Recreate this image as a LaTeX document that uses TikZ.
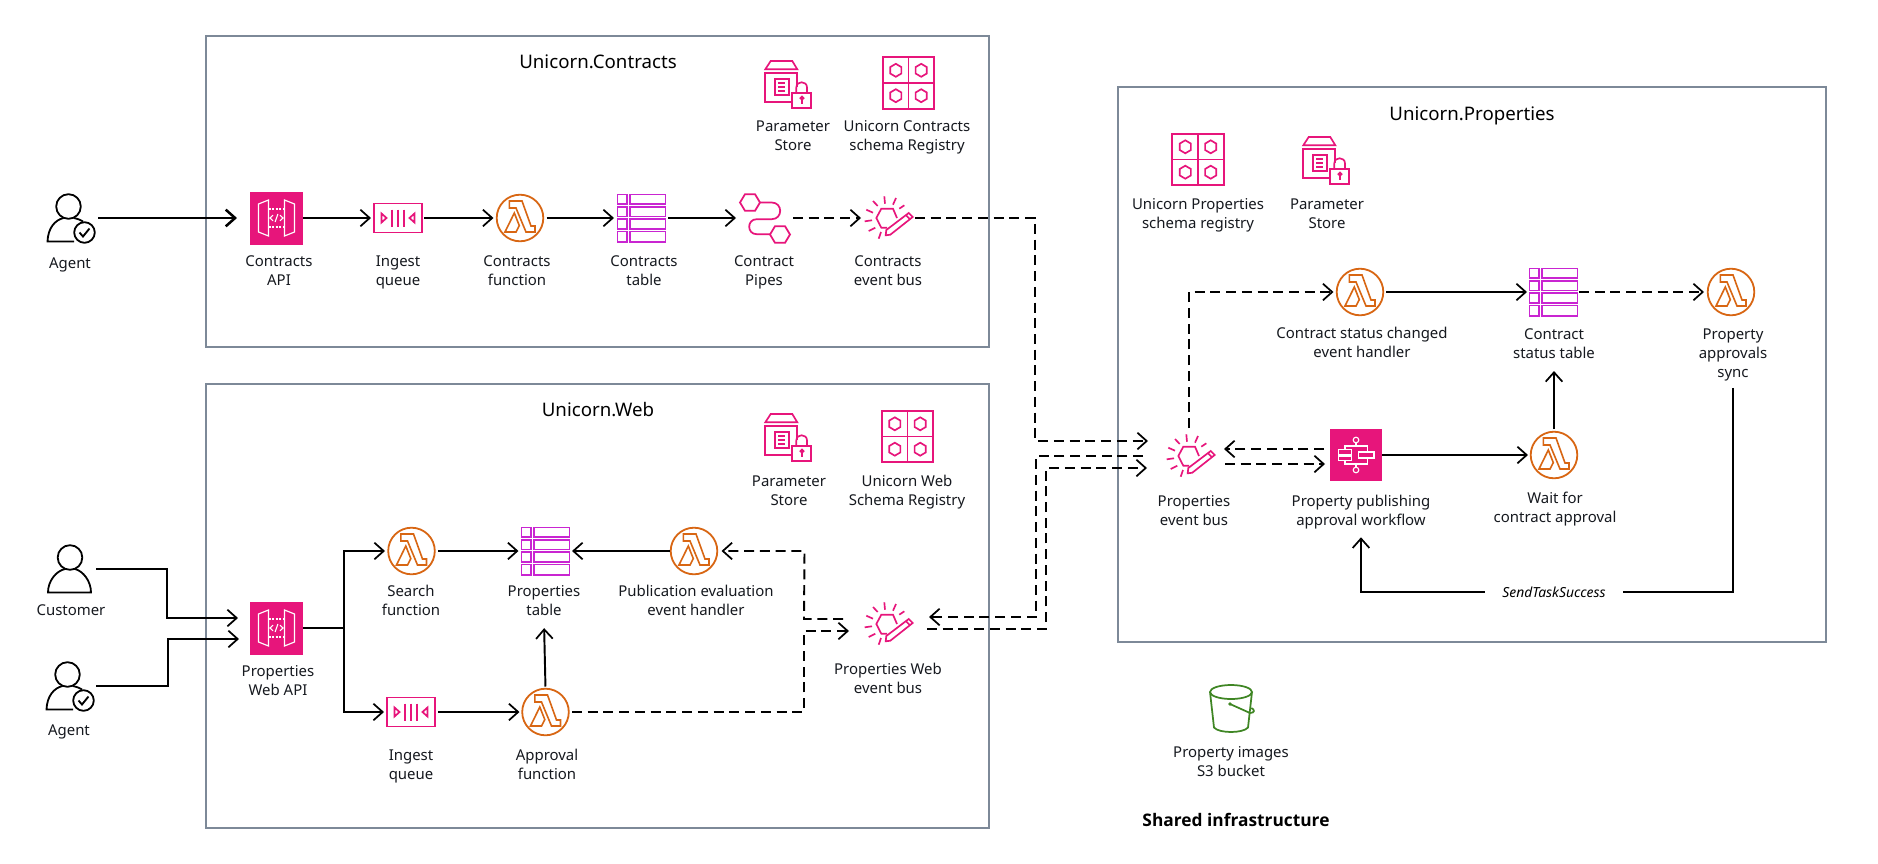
\documentclass[tikz,border=0pt]{standalone}
\usepackage{fontspec}
\setmainfont{Noto Sans}
\newfontfamily\sharedfont{Open Sans}
\usetikzlibrary{arrows.meta,calc}
\definecolor{ink}{HTML}{16191F}
\definecolor{pinkc}{HTML}{E7157B}
\definecolor{orangec}{HTML}{D86613}
\definecolor{purplec}{HTML}{C925D1}
\definecolor{greenc}{HTML}{3F8624}
\definecolor{boxc}{HTML}{7D8998}
\def\px{0.75pt}
\tikzset{
  icon/.style 2 args={minimum width=#1*\px,minimum height=#2*\px,inner sep=0pt,outer sep=0pt},
  lbl/.style={align=center,font=\fontsize{11.2}{14.25}\selectfont,text=ink,inner sep=0pt,yshift=-2.25pt,
    execute at begin node={\strut},execute at end node={\strut}},
  title/.style={align=center,font=\fontsize{14}{16}\selectfont,text=black,inner sep=0pt},
  group/.style 2 args={draw=boxc,line width=1.5pt,minimum width=#1*\px,minimum height=#2*\px,inner sep=0pt},
  flow/.style={draw=black,line width=1.45pt,-{Straight Barb[length=7pt,width=12.5pt,line width=1.3pt]}},
  plainflow/.style={draw=black,line width=1.45pt},
  heavy/.style={draw=black,line width=2pt,-{Straight Barb[length=7pt,width=12.5pt,line width=1.9pt]}},
  dflow/.style={flow,dash pattern=on 7.5pt off 4.3pt},
  pics/lambdaicon/.style={code={
    \draw[orangec,line width=1.35pt] (0,0) circle[radius=23.3];
    \draw[orangec,line width=1.2pt,line join=miter]
      (-10.7,-17)--(2,-17)--(11,8)--(15,8)--(15,14)--(6,14)--(-4,-10)--(-10.7,-10)--cycle
      (-5.7,-5)--(-0.7,7.6)--(-4,14)--(-15,14)--cycle;
  }},
  pics/tableicon/.style={code={
    \begin{scope}[purplec,line width=1.45pt]
    \foreach \a/\b in {-23.5/-14,-11.3/-1.5,1/11,13.5/23.7}{
      \draw (-24,\a) rectangle (-14.5,\b);
      \draw (-11.5,\a) rectangle (24,\b);
    }
    \end{scope}
  }},
  pics/queueicon/.style={code={
    \begin{scope}[pinkc,line width=1.3pt]
    \draw (-24,-14.5) rectangle (24,14.5);
    \foreach \a in {-6,0,6}{\draw (\a,-8.5)--(\a,8.5);}
    \draw (-16.5,-4.5)--(-11.5,0)--(-16.5,4.5)--cycle;
    \draw (16.5,-4.5)--(11.5,0)--(16.5,4.5)--cycle;
    \end{scope}
  }},
  pics/apiicon/.style={code={
    \fill[pinkc] (-26.5,-26.5) rectangle (26.5,26.5);
    \begin{scope}[white,line width=0.85pt]
    \draw (-8,-18)--(-18,-14)--(-18,14)--(-8,18)--cycle;
    \draw (8,-18)--(18,-14)--(18,14)--(8,18)--cycle;
    \draw[dash pattern=on 1.5pt off 1.2pt] (-8,-9)--(8,-9) (-8,9)--(8,9);
    \draw (-3.5,-2.8)--(-6.5,0)--(-3.5,2.8) (3.5,-2.8)--(6.5,0)--(3.5,2.8) (1.4,-4)--(-1.4,4);
    \end{scope}
  }},
  pics/paramicon/.style={code={
    \begin{scope}[pinkc,line width=1.25pt]
    \draw (-22.7,-14.7)--(-17.3,-23)--(4.3,-23)--(9.3,-14.7)--cycle;
    \draw (3.3,18)--(-22.7,18)--(-22.7,-11.3)--(9.3,-11.3)--(9.3,3);
    \draw (-13.3,-5.3) rectangle (0.7,10.7);
    \draw (-10,-1.3)--(-2.7,-1.3) (-10,3)--(-2.7,3) (-10,7.3)--(-2.7,7.3);
    \draw (4.3,9) rectangle (23.3,23.7);
    \draw (8.3,9)--(8.3,3.5) .. controls (8.3,-3.5) and (19,-3.5) .. (19,3.5)--(19,9);
    \draw (14,14.2) circle[radius=1.6];
    \draw (14,15.5)--(14,19.5);
    \end{scope}
  }},
  pics/schemaicon/.style={code={
    \begin{scope}[pinkc,line width=1.25pt]
    \draw (-25.7,-25.7) rectangle (25.7,25.7);
    \draw (0,-25.7)--(0,25.7) (-25.7,0)--(25.7,0);
    \foreach \a in {-12.7,12.7}{\foreach \b in {-12.7,12.7}{
      \draw (\a,\b-6.5)--(\a+5.6,\b-3.2)--(\a+5.6,\b+3.2)--(\a,\b+6.5)--(\a-5.6,\b+3.2)--(\a-5.6,\b-3.2)--cycle;
    }}
    \end{scope}
  }},
  pics/busicon/.style={code={
    \begin{scope}[pinkc,line width=1.25pt,shift={(-1.5,0)}]
    \draw (10,0)--(6,-9.3)--(-5.7,-9.3)--(-10.7,0)--(-5.7,9.7)--(0,9.7);
    \draw (-2.7,-21.7)--(-2,-14.3) (9,-20)--(6,-13.3) (17.3,-12.7)--(12.3,-9.3)
      (-14,-17)--(-9.3,-12) (-20.7,-8.3)--(-14,-5.3) (-22.3,3.3)--(-15,2.3)
      (-18.3,13)--(-11.7,9.7) (-8.3,20.7)--(-6,14);
    \draw (-1.3,17.3)--(-0.7,12)--(21.7,-5)--(25.7,-1)--(3.3,16.7)--cycle (18.7,-3)--(22.7,1);
    \end{scope}
  }},
  pics/pipesicon/.style={code={
    \begin{scope}[pinkc,line width=1.3pt]
    \foreach \a/\b in {-15/-15.5,15/16.5}{
      \draw (\a-10,\b)--(\a-5,\b-8.3)--(\a+5,\b-8.3)--(\a+10,\b)--(\a+5,\b+8.3)--(\a-5,\b+8.3)--cycle;
    }
    \draw (-5,-15.5)--(6.7,-15.5) .. controls (18,-15.5) and (18,1.2) .. (6.7,1.2) -- (-8.3,1.2)
       .. controls (-18.3,1.2) and (-18.3,16.2) .. (-8.3,16.2)--(5,16.2);
    \end{scope}
  }},
  pics/sfnicon/.style={code={
    \fill[pinkc] (-26,-26) rectangle (26,26);
    \begin{scope}[white,line width=0.85pt]
    \draw (0,-15) circle[radius=2.8] (0,15) circle[radius=2.8];
    \draw (0,-12.2)--(0,-9) (0,12.2)--(0,9);
    \draw (-11,-5.5)--(-11,-9)--(11.3,-9)--(11.3,-3) (-11,5.5)--(-11,9)--(11.3,9)--(11.3,3);
    \draw (-17.7,-5.7) rectangle (-4.3,-0.7) (-17.7,1) rectangle (-4.3,5.7);
    \draw (2.3,-3) rectangle (18,3);
    \end{scope}
  }},
  pics/bucketicon/.style={code={
    \begin{scope}[greenc,line width=1.3pt]
    \draw (0,-16.5) ellipse[x radius=21,y radius=7];
    \draw (-21,-16.5)--(-17,19) .. controls (-12,25) and (12,25) .. (17,19)--(21,-16.5);
    \fill (-1,-4.5) circle[radius=1.8];
    \draw (-1,-4.5)--(19,4.5) .. controls (24,4.5) and (24,1) .. (20.3,-0.5);
    \end{scope}
  }},
  pics/customericon/.style={code={
    \begin{scope}[black,line width=1.35pt]
    \draw (-2,-11.5) circle[radius=12.3];
    \draw (-7,0) .. controls (-16,2) and (-24,12) .. (-24,23.5) -- (19,23.5) .. controls (19,12) and (11,2) .. (3,0);
    \end{scope}
  }},
  pics/agenticon/.style={code={
    \begin{scope}[black,line width=1.35pt]
    \draw (-2.5,-11.5) circle[radius=12.3];
    \draw (-7.5,0) .. controls (-16,2) and (-23,10) .. (-23.5,23.5) -- (3,23.5);
    \draw (3,0) .. controls (7,1) and (10,2) .. (12,3.5);
    \draw (13.5,14.5) circle[radius=10.3];
    \draw[line width=1.4pt] (8.5,14.5)--(12,18.5)--(18.5,10.5);
    \end{scope}
  }},
}
\begin{document}
\begin{tikzpicture}[x=0.75pt,y=-0.75pt]
\useasboundingbox (0,0) rectangle (1878,864);
\fill[white] (0,0) rectangle (1878,864);
% groups
\node[group={783}{311}] (gc) at (597.5,191.5) {};
\node[group={783}{444}] (gw) at (597.5,606) {};
\node[group={708}{555}] (gp) at (1472,364.5) {};
\node[title] (tc) at (598,62) {Unicorn.Contracts};
\node[title] (tw) at (598,410) {Unicorn.Web};
\node[title] (tp) at (1472,116) {Unicorn.Properties};
% icon anchors
\node[icon={54}{48}] (agent1) at (71,218) {}; \pic at (agent1) {agenticon};
\node[icon={53}{53}] (capi) at (276.5,218) {}; \pic at (capi) {apiicon};
\node[icon={48}{29}] (cq) at (398,218) {}; \pic at (cq) {queueicon};
\node[icon={47}{47}] (cfn) at (520,218) {}; \pic at (cfn) {lambdaicon};
\node[icon={49}{48}] (ctb) at (641.5,218) {}; \pic at (ctb) {tableicon};
\node[icon={50}{50}] (cpipe) at (765,218) {}; \pic at (cpipe) {pipesicon};
\node[icon={49}{42}] (cbus) at (888.5,218) {}; \pic at (cbus) {busicon};
\node[icon={47}{48}] (cps) at (788,84) {}; \pic at (cps) {paramicon};
\node[icon={52}{52}] (csr) at (908.5,83) {}; \pic at (csr) {schemaicon};

\node[icon={48}{48}] (customer) at (72,569) {}; \pic at (customer) {customericon};
\node[icon={52}{48}] (agent2) at (70,686) {}; \pic at (agent2) {agenticon};
\node[icon={53}{53}] (wapi) at (276.5,628) {}; \pic at (wapi) {apiicon};
\node[icon={47}{47}] (wsearch) at (411.5,551) {}; \pic at (wsearch) {lambdaicon};
\node[icon={48}{29}] (wq) at (411,712) {}; \pic at (wq) {queueicon};
\node[icon={49}{48}] (wtb) at (545.5,551) {}; \pic at (wtb) {tableicon};
\node[icon={47}{47}] (wappr) at (545.5,712) {}; \pic at (wappr) {lambdaicon};
\node[icon={47}{47}] (wpub) at (694,551) {}; \pic at (wpub) {lambdaicon};
\node[icon={49}{42}] (wbus) at (888.5,624) {}; \pic at (wbus) {busicon};
\node[icon={47}{48}] (wps) at (788,437) {}; \pic at (wps) {paramicon};
\node[icon={52}{52}] (wsr) at (907.5,436.5) {}; \pic at (wsr) {schemaicon};

\node[icon={52}{52}] (psr) at (1198,159.5) {}; \pic at (psr) {schemaicon};
\node[icon={47}{48}] (pps) at (1326,160) {}; \pic at (pps) {paramicon};
\node[icon={49}{42}] (pbus) at (1190.5,456) {}; \pic at (pbus) {busicon};
\node[icon={52}{52}] (psfn) at (1356,455) {}; \pic at (psfn) {sfnicon};
\node[icon={47}{47}] (pcsc) at (1360,292) {}; \pic at (pcsc) {lambdaicon};
\node[icon={49}{48}] (pctb) at (1553.5,292) {}; \pic at (pctb) {tableicon};
\node[icon={47}{47}] (pasync) at (1731,292) {}; \pic at (pasync) {lambdaicon};
\node[icon={47}{47}] (pwait) at (1554,455) {}; \pic at (pwait) {lambdaicon};
\node[icon={46}{50}] (s3) at (1231,708.5) {}; \pic at (s3) {bucketicon};
% labels
\node[lbl] (lagent1) at (70,262) {Agent};
\node[lbl] (lcapi) at (279,270.5) {Contracts\\API};
\node[lbl] (lcq) at (398,270.5) {Ingest\\queue};
\node[lbl] (lcfn) at (517,270.5) {Contracts\\function};
\node[lbl] (lctb) at (644,270.5) {Contracts\\table};
\node[lbl] (lcpipe) at (764,270.5) {Contract\\Pipes};
\node[lbl] (lcbus) at (888,270.5) {Contracts\\event bus};
\node[lbl] (lcps) at (793,135.5) {Parameter\\Store};
\node[lbl] (lcsr) at (907,135.5) {Unicorn Contracts\\schema Registry};
\node[lbl] (lcust) at (71,609) {Customer};
\node[lbl] (lagent2) at (69,729) {Agent};
\node[lbl] (lwapi) at (278,680.5) {Properties\\Web API};
\node[lbl] (lwsearch) at (411,600.5) {Search\\function};
\node[lbl] (lwq) at (411,764.5) {Ingest\\queue};
\node[lbl] (lwtb) at (544,600.5) {Properties\\table};
\node[lbl] (lwappr) at (547,764.5) {Approval\\function};
\node[lbl] (lwpub) at (696,600.5) {Publication evaluation\\event handler};
\node[lbl] (lwbus) at (888,678.5) {Properties Web\\event bus};
\node[lbl] (lwps) at (789,490.5) {Parameter\\Store};
\node[lbl] (lwsr) at (907,490.5) {Unicorn Web\\Schema Registry};
\node[lbl] (lpsr) at (1198,213.5) {Unicorn Properties\\schema registry};
\node[lbl] (lpps) at (1327,213.5) {Parameter\\Store};
\node[lbl] (lpbus) at (1194,510.5) {Properties\\event bus};
\node[lbl] (lpsfn) at (1361,510.5) {Property publishing\\approval workflow};
\node[lbl] (lpcsc) at (1362,342.5) {Contract status changed\\event handler};
\node[lbl] (lpctb) at (1554,343.5) {Contract\\status table};
\node[lbl] (lpasync) at (1733,353) {Property\\approvals\\sync};
\node[lbl] (lpwait) at (1555,507.5) {Wait for\\contract approval};
\node[lbl] (ls3) at (1231,761.5) {Property images\\S3 bucket};
\node[inner sep=0pt,text=black,font=\fontsize{13}{16}\selectfont\sharedfont\bfseries] (shared) at (1236,820) {Shared infrastructure};
\node[inner sep=0pt,minimum width=138*\px,text=black,font=\fontsize{10.4}{12}\selectfont\itshape] (send) at (1554,592) {SendTaskSuccess};
% Contracts flows
\draw[heavy,shorten >=13*\px] (agent1.east) -- (agent1.east -| capi.west) ;
\draw[flow,shorten >=3*\px] (capi.east) -- (cq.west);
\draw[flow,shorten <=2*\px,shorten >=3*\px] (cq.east) -- (cfn.west);
\draw[flow,shorten <=3*\px,shorten >=3*\px] (cfn.east) -- (ctb.west);
\draw[flow,shorten <=2*\px,shorten >=4*\px] (ctb.east) -- (ctb.east -| cpipe.west);
\draw[dflow,shorten <=3*\px,shorten >=3*\px] (cpipe.east) -- (cpipe.east -| cbus.west);
\draw[dflow,shorten <=2*\px] (cbus.east) -- ($(pbus.west)+(-131,-238)$) -- ($(pbus.west)+(-131,-15)$) -- ($(pbus.west)+(-18,-15)$);
% Web flows
\draw[flow] (customer.east) -| ($(wapi.west)+(-83,-10)$) -- ($(wapi.west)+(-12,-10)$);
\draw[flow] (agent2.east) -| ($(wapi.west)+(-82,11)$) -- ($(wapi.west)+(-11,11)$);
\coordinate (wsplit) at (344,628);
\draw[plainflow,line width=2pt] (wapi.east) -- (wsplit);
\draw[flow,shorten >=3*\px] (wsplit) |- (wsearch.west);
\draw[flow,shorten >=3*\px] (wsplit) |- (wq.west);
\draw[flow,shorten <=3*\px,shorten >=2.5*\px] (wsearch.east) -- (wsearch.east -| wtb.west);
\draw[flow,shorten <=3*\px,shorten >=2.5*\px] (wq.east) -- (wappr.west);
\draw[flow,shorten <=2*\px,shorten >=6.5*\px] (wappr.north) -- (lwtb.south);
\draw[flow,shorten <=1*\px,shorten >=2*\px] (wpub.west) -- (wpub.west -| wtb.east);
\draw[dflow] ($(wbus.west)+(-21,-5)$) -- ($(wbus.west)+(-60,-5)$) -- ($(wpub.east)+(87,0)$) -- ($(wpub.east)+(4,0)$);
\draw[dflow,shorten <=3*\px] (wappr.east) -- ($(wbus.west)+(-60,88)$) -- ($(wbus.west)+(-60,7)$) -- ($(wbus.west)+(-15,7)$);
% Cross-group flows
\draw[dflow] ($(pbus.west)+(-23,0)$) -- ($(pbus.west)+(-130,0)$) -- ($(wbus.east)+(123,-7)$) -- ($(wbus.east)+(16,-7)$);
\draw[dflow] ($(wbus.east)+(14,5)$) -- ($(wbus.east)+(133,5)$) -- ($(pbus.west)+(-120,12)$) -- ($(pbus.west)+(-19,12)$);
% Properties flows
\draw[dflow,shorten >=3*\px] ($(pbus.north)+(-1.5,-7)$) |- (pcsc.west);
\draw[dflow] ($(psfn.west)+(-6,-6)$) -- ($(pbus.east)+(9,-7)$);
\draw[dflow] ($(pbus.east)+(10,8)$) -- ($(psfn.west)+(-5,9)$);
\draw[flow,shorten >=2.5*\px] (psfn.east) -- (pwait.west);
\draw[flow,shorten <=2.5*\px,shorten >=6.5*\px] (pwait.north) -- (lpctb.south);
\draw[flow,shorten <=2.5*\px,shorten >=2*\px] (pcsc.east) -- (pcsc.east -| pctb.west);
\draw[dflow,shorten <=1*\px,shorten >=3.5*\px] (pctb.east) -- (pasync.west);
\draw[plainflow,shorten <=4.5*\px] (lpasync.south) |- (send.east);
\draw[flow,shorten >=5.5*\px] (send.west) -| (lpsfn.south);
\end{tikzpicture}
\end{document}
